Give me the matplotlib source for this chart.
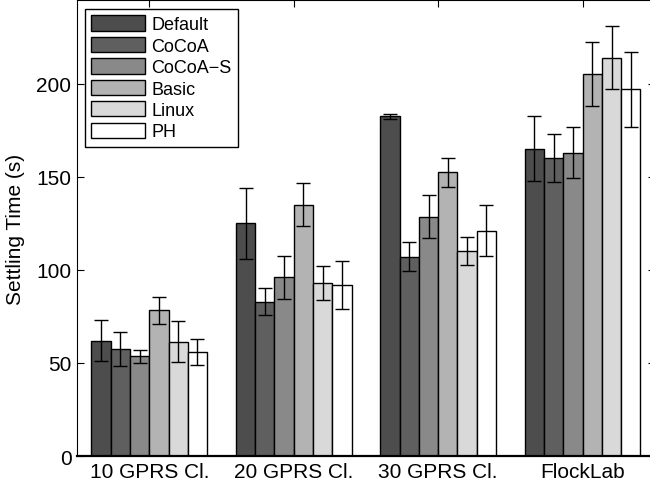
import numpy as np
import matplotlib
matplotlib.use('Agg')
import matplotlib.pyplot as plt

plt.rcParams['font.family'] = ['Liberation Sans', 'DejaVu Sans']

groups = ['10 GPRS Cl.', '20 GPRS Cl.', '30 GPRS Cl.', 'FlockLab']
series = ['Default', 'CoCoA', 'CoCoA\u2212S', 'Basic', 'Linux', 'PH']
colors = ['#4d4d4d', '#5f5f5f', '#898989', '#b3b3b3', '#d9d9d9', '#ffffff']

# mean settling time per series, one value per group
means = [
    [62, 125, 182.5, 165],     # Default
    [57.5, 83, 107, 160],      # CoCoA
    [53.5, 96, 128.5, 163],    # CoCoA-S
    [78.3, 135, 152.5, 205],   # Basic
    [61.5, 93, 110, 214],      # Linux
    [56, 92, 121, 197],        # PH
]
errs = [
    [11, 19, 1.5, 17.5],
    [9, 7.5, 7.8, 13],
    [3.5, 11.5, 11.5, 13.5],
    [7.3, 11.6, 7.8, 17.2],
    [11, 9, 7.5, 17],
    [7, 13, 13.7, 20],
]

fig = plt.figure(figsize=(6.5, 4.89), dpi=100)
ax = fig.add_axes([0.1185, 0.0654, 0.889, 0.9326])

x = np.arange(1, len(groups) + 1)
w = 0.8 / len(series)
for i, (name, c) in enumerate(zip(series, colors)):
    pos = x + (i - (len(series) - 1) / 2) * w
    ax.bar(pos, means[i], w, color=c, edgecolor='black', linewidth=1.0, label=name)
    ax.errorbar(pos, means[i], yerr=errs[i], fmt='none', ecolor='black',
                elinewidth=1.0, capsize=5, capthick=1.0)

ax.set_xlim(0.5, 4.5)
ax.set_ylim(0, 245)
ax.set_xticks(x)
ax.set_xticklabels(groups, fontsize=15)
ax.set_yticks([0, 50, 100, 150, 200])
ax.tick_params(axis='y', labelsize=15)
ax.tick_params(direction='in', top=True, right=True, length=5, pad=4)
ax.set_ylabel('Settling Time (s)', fontsize=15)
ax.yaxis.set_label_coords(-0.09, 0.5)
ax.spines['bottom'].set_linewidth(1.6)

leg = ax.legend(loc='upper left', bbox_to_anchor=(0.0138, 0.98), fontsize=13,
                frameon=True, fancybox=False, edgecolor='black',
                handlelength=3.0, handleheight=0.92, labelspacing=0.2,
                handletextpad=0.33, borderpad=0.35, borderaxespad=0,
                framealpha=1)
leg.get_frame().set_linewidth(1.0)

fig.savefig('out.png', dpi=100)
